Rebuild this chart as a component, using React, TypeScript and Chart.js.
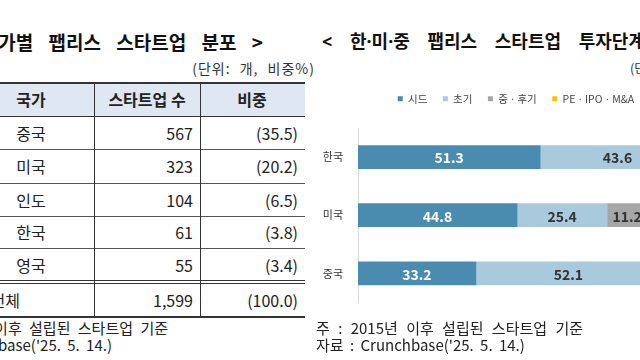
import React, { useEffect, useRef } from "react";
import { Chart, registerables } from "chart.js";

Chart.register(...registerables);

// ---------- chart data ----------
const categories = ["한국", "미국", "중국"];
const stageLabels = ["시드", "초기", "중ㆍ후기", "PEㆍIPOㆍM&A"];
const seedValues = [51.3, 44.8, 33.2];
const earlyValues = [43.6, 25.4, 52.1];
const midLateValues = [5.1, 11.2, 11.4];
const peIpoMaValues = [0, 18.6, 3.3];
const stageColors = ["#4a8bb0", "#a9c9dc", "#a6a6a6", "#ffc000"];

// ---------- table data ----------
const tableHeaders = ["국가", "스타트업 수", "비중"];
const tableCountries = ["중국", "미국", "인도", "한국", "영국"];
const tableCounts = ["567", "323", "104", "61", "55"];
const tableShares = ["(35.5)", "(20.2)", "(6.5)", "(3.8)", "(3.4)"];
const totalRow = ["전체", "1,599", "(100.0)"];

const leftTitle = "< 국가별 팹리스 스타트업 분포 >";
const rightTitle = "< 한·미·중 팹리스 스타트업 투자단계별 분포 >";
const leftUnit = "(단위: 개, 비중%)";
const rightUnit = "(단위: %)";
const noteLine = "주 : 2015년 이후 설립된 스타트업 기준";
const sourceLine = "자료 : Crunchbase('25. 5. 14.)";

const FONT = "'Noto Sans CJK KR', 'Noto Sans', sans-serif";
const FONT_LATIN_FIRST = "'Noto Sans', 'Noto Sans CJK KR', sans-serif";

type TxtProps = {
  x: number;
  y: number;
  text: string;
  size: number;
  align?: "left" | "right" | "center";
  weight?: number;
  color?: string;
  wordSpacing?: number;
  letterSpacing?: number;
  family?: string;
};

function Txt({ x, y, text, size, align = "left", weight = 400, color = "#222", wordSpacing = 0, letterSpacing = 0, family = FONT }: TxtProps) {
  const lh = Math.round(size * 1.4);
  const style: React.CSSProperties = {
    position: "absolute",
    top: y - lh / 2,
    lineHeight: lh + "px",
    fontSize: size,
    fontWeight: weight,
    color,
    whiteSpace: "pre",
    fontFamily: family,
    wordSpacing,
    letterSpacing,
  };
  if (align === "left") style.left = x;
  else if (align === "right") style.right = 640 - x;
  else {
    style.left = x - 200;
    style.width = 400;
    style.textAlign = "center";
  }
  return <div style={style}>{text}</div>;
}

function HLine({ y, x1, x2, h = 1, color = "#333" }: { y: number; x1: number; x2: number; h?: number; color?: string }) {
  return <div style={{ position: "absolute", left: x1, top: y, width: x2 - x1, height: h, background: color }} />;
}
function VLine({ x, y1, y2, w = 1, color = "#333" }: { x: number; y1: number; y2: number; w?: number; color?: string }) {
  return <div style={{ position: "absolute", left: x, top: y1, width: w, height: y2 - y1, background: color }} />;
}

const legendMargin = {
  id: "legendMargin",
  beforeInit(chart: any) {
    const legend = chart.legend;
    if (!legend) return;
    const fit = legend.fit;
    legend.fit = function () {
      fit.call(this);
      this.height += 14;
    };
  },
  afterLayout(chart: any) {
    const legend = chart.legend;
    if (!legend) return;
    legend.left -= 1;
    legend.right -= 1;
  },
};

const valueLabels = {
  id: "valueLabels",
  afterDatasetsDraw(chart: any) {
    const ctx = chart.ctx;
    chart.data.datasets.forEach((ds: any, di: number) => {
      const meta = chart.getDatasetMeta(di);
      meta.data.forEach((bar: any, i: number) => {
        const v = ds.data[i];
        if (!v) return;
        const p = bar.getProps(["x", "y", "base"], true);
        ctx.save();
        ctx.font = "bold 14px 'Noto Sans CJK KR'";
        ctx.fillStyle = di === 0 ? "#ffffff" : "#333333";
        ctx.textAlign = "center";
        ctx.textBaseline = "middle";
        ctx.fillText(v.toFixed(1), (p.x + p.base) / 2, p.y + 1);
        ctx.restore();
      });
    });
  },
};

function StageChart() {
  const ref = useRef<HTMLCanvasElement>(null);
  useEffect(() => {
    if (!ref.current) return;
    const series = [seedValues, earlyValues, midLateValues, peIpoMaValues];
    const chart = new Chart(ref.current, {
      type: "bar",
      data: {
        labels: categories,
        datasets: series.map((d, i) => ({
          label: stageLabels[i],
          data: d,
          backgroundColor: stageColors[i],
          borderWidth: 0,
          barThickness: 23,
        })),
      },
      options: {
        indexAxis: "y",
        animation: false,
        responsive: false,
        maintainAspectRatio: false,
        layout: { padding: 0 },
        scales: {
          x: { stacked: true, min: 0, max: 100, display: false },
          y: {
            stacked: true,
            grid: { display: false, drawTicks: false },
            border: { display: true, color: "#d9d9d9", width: 1 },
            ticks: { padding: 15, color: "#333", font: { family: "'Noto Sans CJK KR'", size: 11 } },
            afterFit: (s: any) => {
              s.width = 37;
            },
          },
        },
        plugins: {
          legend: {
            position: "top",
            labels: {
              boxWidth: 5,
              boxHeight: 5,
              padding: 15.5,
              color: "#444",
              font: { family: "'Noto Sans CJK KR'", size: 10.5 },
            },
          },
          tooltip: { enabled: false },
        },
      } as any,
      plugins: [legendMargin, valueLabels] as any,
    });
    return () => chart.destroy();
  }, []);
  return (
    <canvas
      ref={ref}
      width={392}
      height={246}
      style={{ position: "absolute", left: 321, top: 78, width: 392, height: 246 }}
    />
  );
}

export default function App() {
  const rowLines = [149, 183, 216, 248];
  const rowCenters = [132.5, 166, 199.5, 232, 264.5];
  return (
    <div
      style={{
        position: "fixed",
        left: 0,
        top: 0,
        width: 640,
        height: 360,
        overflow: "hidden",
        background: "#fff",
        fontFamily: FONT,
      }}
    >
      {/* left panel */}
      <Txt x={263} y={41} text={leftTitle} size={19} weight={700} align="right" color="#111" wordSpacing={11} />
      <Txt x={315} y={68} text={leftUnit} size={14} align="right" color="#333" wordSpacing={5} letterSpacing={1} />
      <div style={{ position: "absolute", left: 0, top: 83, width: 305, height: 33, background: "#dfe8f2" }} />
      <HLine y={82} x1={0} x2={305} h={2} />
      <HLine y={116} x1={0} x2={305} />
      {rowLines.map((y) => (
        <HLine key={y} y={y} x1={0} x2={305} color="#555" />
      ))}
      <HLine y={280} x1={0} x2={305} />
      <HLine y={283} x1={0} x2={305} />
      <HLine y={316} x1={0} x2={305} h={2} />
      <VLine x={94} y1={82} y2={318} />
      <VLine x={200} y1={82} y2={318} />
      <Txt x={31} y={99} text={tableHeaders[0]} size={16} weight={700} align="center" />
      <Txt x={147} y={99} text={tableHeaders[1]} size={16} weight={700} align="center" />
      <Txt x={252} y={99} text={tableHeaders[2]} size={16} weight={700} align="center" />
      {tableCountries.map((c, i) => (
        <React.Fragment key={c}>
          <Txt x={31} y={rowCenters[i]} text={c} size={16} align="center" />
          <Txt x={193} y={rowCenters[i]} text={tableCounts[i]} size={16} align="right" />
          <Txt x={298} y={rowCenters[i]} text={tableShares[i]} size={16} align="right" />
        </React.Fragment>
      ))}
      <Txt x={20} y={300} text={totalRow[0]} size={16} align="right" />
      <Txt x={193} y={300} text={totalRow[1]} size={16} align="right" />
      <Txt x={298} y={300} text={totalRow[2]} size={16} align="right" />

      {/* right panel */}
      <Txt x={322} y={41} text={rightTitle} size={18} weight={700} color="#111" wordSpacing={13} family={FONT_LATIN_FIRST} />
      <Txt x={630} y={68} text={rightUnit} size={12.5} color="#333" />
      <StageChart />
      <Txt x={168} y={327} text={noteLine} size={15} align="right" wordSpacing={4} />
      <Txt x={112} y={344} text={sourceLine} size={15} align="right" wordSpacing={3} />
      <Txt x={316} y={327} text={noteLine} size={15} wordSpacing={5} />
      <Txt x={316} y={344} text={sourceLine} size={15} wordSpacing={3} />
    </div>
  );
}
